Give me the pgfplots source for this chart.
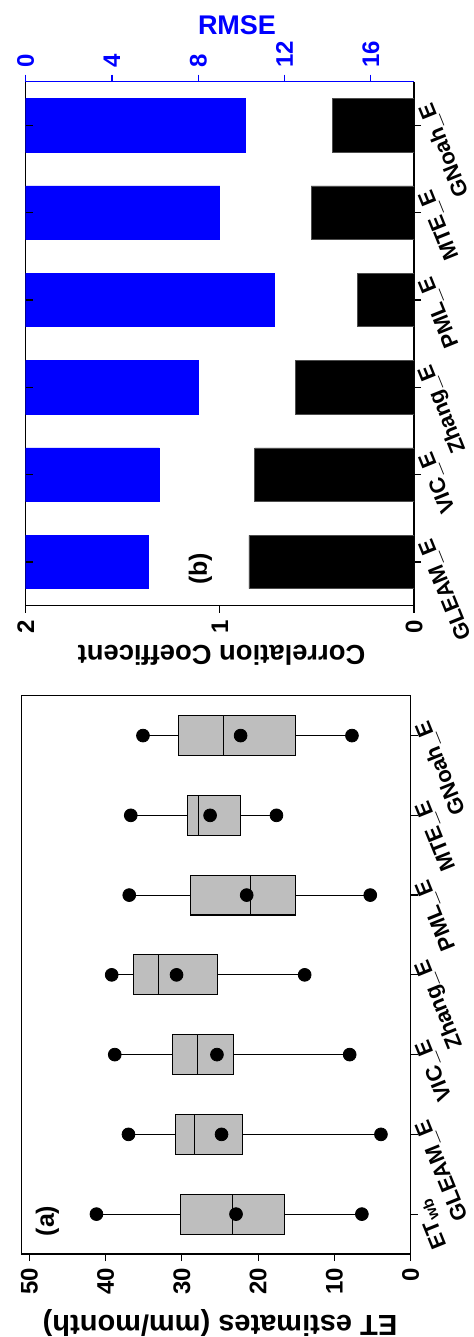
\documentclass[border=0pt]{standalone}
\usepackage{fontspec}
\setmainfont{Liberation Sans}
\usepackage{pgfplots}
\pgfplotsset{compat=1.18}
\usepgfplotslibrary{statistics}
\definecolor{boxgray}{RGB}{190,190,190}
\definecolor{rblue}{RGB}{0,0,255}
\newcommand{\fs}[1]{\bfseries\fontsize{#1}{#1}\selectfont}
\begin{document}
\begin{tikzpicture}
\path[use as bounding box] (0,0) rectangle (236.5pt,668.5pt);

% ---------------- Panel (a): box plots ----------------
\begin{axis}[
  at={(10.85pt,41.5pt)}, anchor=south west,
  scale only axis, width=194.5pt, height=279.15pt,
  xmin=0, xmax=51, x dir=reverse,
  ymin=0.5, ymax=7.5,
  xtick={0,10,20,30,40,50},
  ytick={1,2,3,4,5,6,7},
  yticklabels={ET\textsubscript{wb}, GLEAM\_E, VIC\_E, Zhang\_E, PML\_E, MTE\_E, GNoah\_E},
  xtick pos=bottom, ytick pos=right, yticklabel pos=right,
  tick align=outside, major tick length=3.5pt,
  tick style={black, line width=0.6pt},
  axis line style={line width=0.7pt},
  /pgf/number format/assume math mode=true,
  xticklabel style={font=\fs{12}, rotate=90, anchor=east},
  yticklabel style={font=\fs{11}, xshift=1pt, yshift=10pt, rotate=112, anchor=east},
  boxplot/draw direction=x,
  clip=false,
]
\addplot[draw=black, fill=boxgray, line width=0.55pt, boxplot prepared={lower whisker=6.4, lower quartile=16.6, median=23.4, upper quartile=30.2, upper whisker=41.2, draw position=1, box extend=0.5, whisker extend=0}] coordinates {};
\addplot[draw=black, fill=boxgray, line width=0.55pt, boxplot prepared={lower whisker=3.9, lower quartile=22.0, median=28.4, upper quartile=30.8, upper whisker=37.0, draw position=2, box extend=0.5, whisker extend=0}] coordinates {};
\addplot[draw=black, fill=boxgray, line width=0.55pt, boxplot prepared={lower whisker=8.0, lower quartile=23.2, median=28.0, upper quartile=31.2, upper whisker=38.8, draw position=3, box extend=0.5, whisker extend=0}] coordinates {};
\addplot[draw=black, fill=boxgray, line width=0.55pt, boxplot prepared={lower whisker=13.9, lower quartile=25.3, median=33.1, upper quartile=36.3, upper whisker=39.2, draw position=4, box extend=0.5, whisker extend=0}] coordinates {};
\addplot[draw=black, fill=boxgray, line width=0.55pt, boxplot prepared={lower whisker=5.3, lower quartile=15.1, median=21.0, upper quartile=28.9, upper whisker=36.9, draw position=5, box extend=0.5, whisker extend=0}] coordinates {};
\addplot[draw=black, fill=boxgray, line width=0.55pt, boxplot prepared={lower whisker=17.6, lower quartile=22.3, median=27.8, upper quartile=29.3, upper whisker=36.7, draw position=6, box extend=0.5, whisker extend=0}] coordinates {};
\addplot[draw=black, fill=boxgray, line width=0.55pt, boxplot prepared={lower whisker=7.7, lower quartile=15.1, median=24.5, upper quartile=30.4, upper whisker=35.1, draw position=7, box extend=0.5, whisker extend=0}] coordinates {};
% whisker-end dots
\addplot[only marks, mark=*, mark size=3.2pt, black] coordinates {
 (6.4,1) (41.2,1) (3.9,2) (37.0,2) (8.0,3) (38.8,3) (13.9,4) (39.2,4)
 (5.3,5) (36.9,5) (17.6,6) (36.7,6) (7.7,7) (35.1,7)};
% means
\addplot[only marks, mark=*, mark size=3.2pt, black] coordinates {
 (22.9,1) (24.8,2) (25.4,3) (30.7,4) (21.5,5) (26.3,6) (22.3,7)};
\end{axis}

% ---------------- Panel (b): correlation (black) ----------------
\begin{axis}[
  at={(12.85pt,365.65pt)}, anchor=south west,
  scale only axis, width=194.15pt, height=262pt,
  xmin=0, xmax=2, x dir=reverse,
  ymin=0.5, ymax=6.5,
  axis x line*=bottom, axis y line*=right,
  axis line style={-, line width=0.7pt},
  xtick={0,1,2}, ytick={1,2,3,4,5,6},
  yticklabels={GLEAM\_E, VIC\_E, Zhang\_E, PML\_E, MTE\_E, GNoah\_E},
  tick align=outside, major tick length=3.5pt,
  tick style={black, line width=0.6pt},
  /pgf/number format/assume math mode=true,
  xticklabel style={font=\fs{12}, rotate=90, anchor=east},
  yticklabel style={font=\fs{11}, xshift=1pt, yshift=14pt, rotate=112, anchor=east},
  xbar, bar width=26.7pt,
]
\addplot[fill=black, draw=black!70, line width=0.3pt] coordinates {
 (0.85,1) (0.82,2) (0.61,3) (0.29,4) (0.53,5) (0.42,6)};
\end{axis}

% ---------------- Panel (b): RMSE (blue) ----------------
\begin{axis}[
  at={(12.85pt,365.65pt)}, anchor=south west,
  scale only axis, width=194.15pt, height=262pt,
  xmin=0, xmax=18,
  ymin=0.5, ymax=6.5,
  axis x line*=top, axis y line*=left,
  axis line style={-, line width=0.7pt},
  x axis line style={rblue},
  xtick={0,4,8,12,16}, ytick=\empty,
  tick align=outside, major tick length=3.5pt,
  xtick style={rblue, line width=0.6pt},
  /pgf/number format/assume math mode=true,
  xticklabel style={font=\fs{12}, rotate=90, anchor=west, text=rblue},
  xbar, bar width=26.7pt,
]
\addplot[fill=rblue, draw=rblue] coordinates {
 (5.7,1) (6.18,2) (8.0,3) (11.55,4) (9.0,5) (10.2,6)};
\end{axis}

% inward ticks on the left side of panel (b)
\begin{axis}[
  at={(12.85pt,365.65pt)}, anchor=south west,
  scale only axis, width=194.15pt, height=262pt,
  xmin=0, xmax=1, ymin=0.5, ymax=6.5,
  hide x axis, axis y line*=left,
  axis line style={draw=none},
  ytick={1,2,3,4,5,6}, yticklabels={},
  tick align=inside, major tick length=3.5pt,
  tick style={black, line width=0.6pt},
]
\addplot[draw=none] coordinates {(0,1)};
\end{axis}

% ---------------- texts ----------------
\node[rotate=180, font=\fs{14.5}] at (110pt,7.25pt) {ET estimates (mm/month)};
\node[rotate=180, font=\fs{13.7}] at (110.75pt,341pt) {Correlation Coefficent};
\node[font=\fs{13.5}, text=rblue] at (118.5pt,656pt) {RMSE};
\node[rotate=90, font=\fs{12.5}] at (23.75pt,58pt) {(a)};
\node[rotate=90, font=\fs{12.5}] at (100.25pt,384pt) {(b)};
\end{tikzpicture}
\end{document}
